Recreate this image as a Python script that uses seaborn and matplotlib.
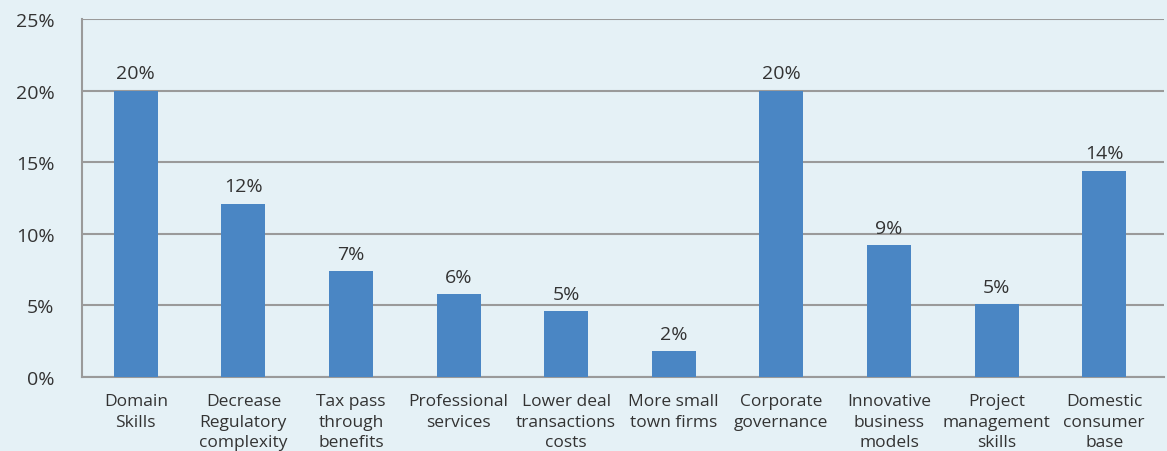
import matplotlib
matplotlib.use("Agg")
import matplotlib.pyplot as plt
import seaborn as sns
import pandas as pd
from matplotlib.ticker import FixedLocator, NullFormatter, FuncFormatter

categories = [
    "Domain\nSkills",
    "Decrease\nRegulatory\ncomplexity",
    "Tax pass\nthrough\nbenefits",
    "Professional\nservices",
    "Lower deal\ntransactions\ncosts",
    "More small\ntown firms",
    "Corporate\ngovernance",
    "Innovative\nbusiness\nmodels",
    "Project\nmanagement\nskills",
    "Domestic\nconsumer\nbase",
]
values = [20.0, 12.1, 7.4, 5.8, 4.6, 1.8, 20.0, 9.2, 5.1, 14.4]
y_ticks = [0, 5, 10, 15, 20, 25]

BG = "#e5f1f6"
BAR = "#4a86c4"
GRID = "#9a9a9a"
TEXT = "#333333"

sns.set_theme(style="white")
plt.rcParams["font.family"] = ["Open Sans", "DejaVu Sans"]

df = pd.DataFrame({"category": categories, "value": values})

fig = plt.figure(figsize=(11.67, 4.52), dpi=100, facecolor=BG)
W, H = 1167, 452
ax = fig.add_axes([82 / W, (H - 378) / H, (1164 - 82) / W, (378 - 20) / H])
ax.set_facecolor(BG)

sns.barplot(data=df, x="category", y="value", color=BAR, width=0.41,
            saturation=1, linewidth=0, ax=ax, zorder=3)

ax.set_ylim(0, 25)
ax.set_xlim(-0.5, 9.556)
ax.yaxis.set_major_locator(FixedLocator(y_ticks))
ax.yaxis.set_major_formatter(FuncFormatter(lambda v, p: f"{v:.0f}%"))
ax.grid(axis="y", color=GRID, linewidth=1.5, zorder=0)
ax.set_axisbelow(True)

# category labels centred, tick marks on the category boundaries
ax.xaxis.set_major_locator(FixedLocator([i - 0.5 for i in range(len(categories) + 1)]))
ax.xaxis.set_major_formatter(NullFormatter())
ax.xaxis.set_minor_locator(FixedLocator(range(len(categories))))
ax.set_xticklabels(categories, minor=True)
ax.tick_params(axis="x", which="major", length=7.2, width=1.5, color=GRID, direction="out")
ax.tick_params(axis="x", which="minor", length=0, pad=11.5, labelsize=12.5, labelcolor=TEXT)
ax.tick_params(axis="y", length=5.8, width=1.5, color=GRID, direction="out",
               labelsize=14, labelcolor=TEXT, pad=14)
for lab in ax.get_xticklabels(minor=True):
    lab.set_linespacing(1.38)
    lab.set_verticalalignment("top")

ax.set_xlabel("")
ax.set_ylabel("")
for side in ["top", "right"]:
    ax.spines[side].set_visible(False)
for side in ["left", "bottom"]:
    ax.spines[side].set_color(GRID)
    ax.spines[side].set_linewidth(1.5)

for i, v in enumerate(values):
    ax.annotate(f"{v:.0f}%", xy=(i, v), xytext=(0, 6), textcoords="offset points",
                ha="center", va="bottom", fontsize=14, color=TEXT)

fig.savefig("out.png", dpi=100, facecolor=BG)
